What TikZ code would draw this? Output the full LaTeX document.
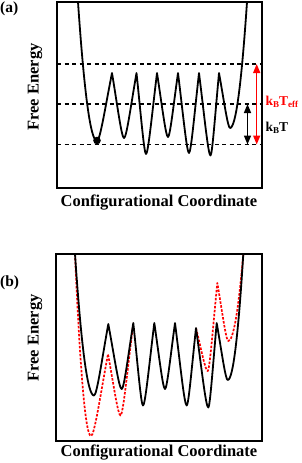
\documentclass[tikz,border=0pt]{standalone}
\usepackage{fontspec}
\setmainfont{Liberation Serif}
\usetikzlibrary{arrows.meta}
\def\up#1#2#3#4{.. controls ({#1+0.2*(#3-#1)},#2) and ({#1+0.55*(#3-#1)},{#2+0.5*(#4-#2)}) .. (#3,#4)}
\def\dn#1#2#3#4{.. controls ({#3+0.55*(#1-#3)},{#4+0.5*(#2-#4)}) and ({#3+0.2*(#1-#3)},#4) .. (#3,#4)}
\def\wup#1#2#3#4{.. controls ({#1+0.3333*(#3-#1)},#2) and ({#1+0.6667*(#3-#1)},{#2+0.3333*(#4-#2)}) .. (#3,#4)}
\def\wdn#1#2#3#4{.. controls ({#3+0.6667*(#1-#3)},{#4+0.3333*(#2-#4)}) and ({#3+0.3333*(#1-#3)},#4) .. (#3,#4)}
\newcommand{\lowsub}[1]{\raisebox{-0.4ex}{\fontsize{9}{9}\selectfont #1}}
\begin{document}
\begin{tikzpicture}[x=1pt,y=-1pt,
  curve/.style={line width=1.8pt,line join=round},
  redcurve/.style={line width=1.7pt,red,line join=round,dash pattern=on 2.5pt off 1.5pt},
  frame/.style={line width=2pt},
  level/.style={line width=1.3pt,dash pattern=on 4pt off 3.5pt},
  dbl/.style={line width=1.5pt,{Triangle[length=9pt,width=7pt]}-{Triangle[length=9pt,width=7pt]}},
  lab/.style={font=\fontsize{16.5}{18}\selectfont\bfseries,inner sep=0pt},
  tag/.style={font=\fontsize{15.5}{17}\selectfont\bfseries,inner sep=0pt,anchor=west},
  klab/.style={font=\fontsize{13.5}{15}\selectfont\bfseries,inner sep=0pt,anchor=base west}]
\useasboundingbox (0,0) rectangle (301,463);
% ---------- panel (a)
\draw[level] (57,64) -- (262,64);
\draw[level] (57,104) -- (262,104);
\draw[level] (57,144.5) -- (262,144.5);
\draw[curve] (78,2) \wdn{78}{2}{97}{141} \up{97}{141}{112}{73} \dn{112}{73}{124}{138}
  \up{124}{138}{136.5}{73} \dn{136.5}{73}{146}{154} \up{146}{154}{157}{73}
  \dn{157}{73}{168}{137} \up{168}{137}{178}{73} \dn{178}{73}{189}{153}
  \up{189}{153}{199}{73} \dn{199}{73}{210.5}{155.5} \up{210.5}{155.5}{219}{73}
  \dn{219}{73}{230}{128} \wup{230}{128}{247}{2};
\fill (97,140.5) circle (3.8pt);
\draw[dbl,red] (256.7,64) -- (256.7,144.5);
\draw[dbl] (247.5,104) -- (247.5,144.5);
\draw[frame] (56.5,2) rectangle (262,188);
\node[tag] (ta) at (0,9) {(a)};
\node[lab,rotate=90] (ya) at (35,87) {Free Energy};
\node[lab] (xa) at (159,203) {Configurational Coordinate};
\node[klab,red] (kteff) at (265.5,105) {k\lowsub{B}T\lowsub{eff}};
\node[klab] (kt) at (265.5,131) {k\lowsub{B}T};
% ---------- panel (b)
\draw[redcurve] (75,254) \wdn{75}{254}{91}{436} \up{91}{436}{108}{354} \dn{108}{354}{120.5}{415.5}
  \up{120.5}{415.5}{133.3}{323};
\draw[redcurve] (196,328) \dn{196}{328}{207.7}{371} \up{207.7}{371}{217.3}{283}
  \dn{217.3}{283}{228.3}{341} \wup{228.3}{341}{243.3}{254};
\draw[curve] (75,254) \wdn{75}{254}{94}{395.5} \up{94}{395.5}{108.3}{324} \dn{108.3}{324}{121.7}{389}
  \up{121.7}{389}{133.3}{323} \dn{133.3}{323}{143}{405.5} \up{143}{405.5}{154.3}{323}
  \dn{154.3}{323}{165}{389} \up{165}{389}{175}{323} \dn{175}{323}{186.7}{405.5}
  \up{186.7}{405.5}{196}{328} \dn{196}{328}{208.3}{407.5} \up{208.3}{407.5}{216.7}{323}
  \dn{216.7}{323}{227.7}{380} \wup{227.7}{380}{243.3}{254};
\draw[frame] (56,254) rectangle (262,440.5);
\node[tag] (tb) at (0,283) {(b)};
\node[lab,rotate=90] (yb) at (35,338) {Free Energy};
\node[lab] (xb) at (159,453) {Configurational Coordinate};
\end{tikzpicture}
\end{document}
